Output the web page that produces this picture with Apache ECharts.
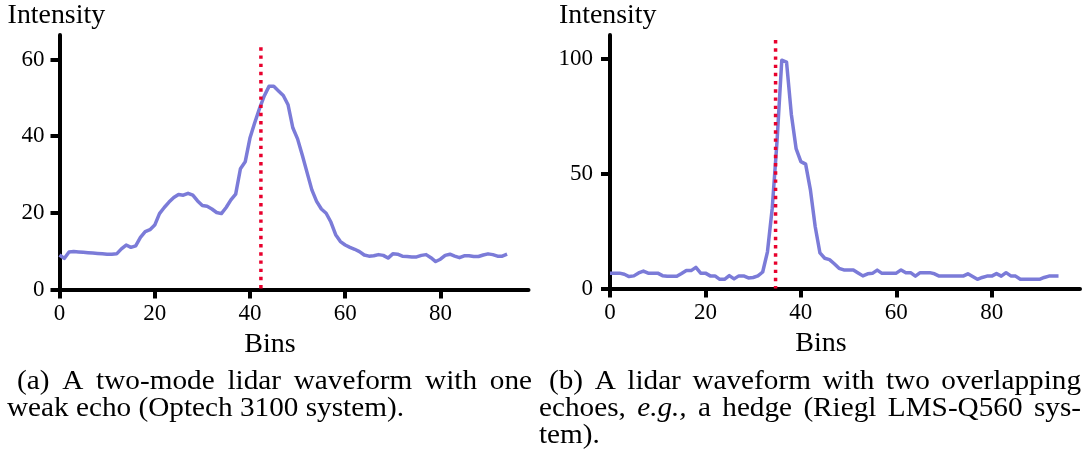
<!DOCTYPE html>
<html><head><meta charset="utf-8">
<script src="https://cdn.jsdelivr.net/npm/echarts@6/dist/echarts.min.js"></script>
<style>html,body{margin:0;padding:0;background:#fff;}#c{width:1083px;height:460px;}</style>
</head><body><div id="c"></div>
<script>
// ---- data ----
const waveformA = [9.0,8.1,9.8,9.9,9.8,9.7,9.6,9.5,9.4,9.3,9.2,9.2,9.3,10.6,11.6,11.0,11.4,13.6,15.1,15.6,
  16.8,19.8,21.4,22.8,24.0,24.8,24.6,25.1,24.6,23.1,21.9,21.7,21.0,20.1,19.8,21.4,23.4,24.9,31.5,33.3,
  39.5,43.5,47.2,50.5,53.0,53.0,51.8,50.6,48.2,42.2,39.3,35.0,30.5,26.0,23.0,21.0,19.9,17.6,14.3,12.5,
  11.6,11.0,10.5,9.9,9.0,8.7,8.8,9.1,8.9,8.2,9.3,9.2,8.7,8.6,8.5,8.5,8.9,9.1,8.3,7.3,
  7.9,8.9,9.2,8.7,8.3,8.8,8.8,8.6,8.6,9.0,9.3,9.1,8.7,8.7,9.2];
const waveformB = [6.7,6.7,6.7,6.2,5.2,5.5,6.8,7.6,6.7,6.7,6.7,5.6,5.3,5.3,5.3,6.5,7.8,7.8,9.2,6.7,
  6.7,5.5,5.5,4.0,4.0,5.6,4.2,5.5,5.5,4.6,4.8,5.5,7.2,16.0,35.0,64.0,99.5,98.7,76.0,61.0,
  55.3,54.2,43.0,27.0,15.5,13.2,12.6,10.8,8.8,8.1,8.1,8.1,6.8,5.5,6.4,6.6,8.0,6.6,6.6,6.6,
  6.7,8.1,6.9,6.9,5.4,6.9,6.9,6.9,6.4,5.4,5.4,5.4,5.4,5.4,5.4,6.4,5.2,4.0,4.8,5.4,
  5.4,6.5,5.4,6.9,5.5,5.4,4.0,4.0,4.0,4.0,4.0,4.8,5.4,5.4,5.4];
// dotted marker: [bin, top intensity, bottom intensity]
const markerA = [42.3, 63.2, 0];
const markerB = [34.7, 108.3, 0];
const xTicks = [0, 20, 40, 60, 80];
const yTicksA = [0, 20, 40, 60];
const yTicksB = [0, 50, 100];
const xTitle = 'Bins';
const yTitle = 'Intensity';
const captionA = [
  ['(a)', 'A', 'two-mode', 'lidar', 'waveform', 'with', 'one'],
  ['weak', 'echo', '(Optech', '3100', 'system).']
];
const captionB = [
  ['(b)', 'A', 'lidar', 'waveform', 'with', 'two', 'overlapping'],
  ['echoes,', 'e.g.,', 'a', 'hedge', '(Riegl', 'LMS-Q560', 'sys-'],
  ['tem).']
];
const italicWords = ['e.g.,'];

// ---- chart ----
const FONT = 'Liberation Serif';
const BLUE = '#7b7bd8';
const RED = '#e8012d';
const chart = echarts.init(document.getElementById('c'), null, {renderer: 'canvas'});

function xAxisCfg(gi, max) {
  return {
    type: 'value', gridIndex: gi, min: 0, max: max,
    axisLine: {show: true, onZero: false, lineStyle: {color: '#000', width: 4}},
    axisTick: {show: true, length: 9, lineStyle: {color: '#000', width: 4}, customValues: xTicks},
    axisLabel: {customValues: xTicks, fontFamily: FONT, fontSize: 23, color: '#000', margin: 13},
    splitLine: {show: false},
    name: xTitle, nameLocation: 'middle', nameGap: 40,
    nameTextStyle: {fontFamily: FONT, fontSize: 28, color: '#000', padding: [0, 48, 0, 0]}
  };
}
function yAxisCfg(gi, max, ticks, margin) {
  return {
    type: 'value', gridIndex: gi, min: 0, max: max,
    axisLine: {show: true, onZero: false, lineStyle: {color: '#000', width: 4}},
    axisTick: {show: true, length: 9, lineStyle: {color: '#000', width: 4}, customValues: ticks},
    axisLabel: {customValues: ticks, fontFamily: FONT, fontSize: 23, color: '#000', margin: margin},
    splitLine: {show: false}
  };
}
function waveSeries(i, values) {
  return {
    type: 'line', xAxisIndex: i, yAxisIndex: i, z: 2,
    data: values.map((v, k) => [k, v]),
    symbol: 'none', showSymbol: false, smooth: false,
    lineStyle: {color: BLUE, width: 3.5, join: 'round'}, silent: true
  };
}
function markerSeries(i, m) {
  return {
    type: 'line', xAxisIndex: i, yAxisIndex: i, z: 3,
    data: [[m[0], m[1]], [m[0], m[2]]],
    symbol: 'none', showSymbol: false,
    lineStyle: {color: RED, width: 3.5, type: [3.4, 4.8], cap: 'butt'}, silent: true
  };
}

// text measuring for captions
const ctx = document.createElement('canvas').getContext('2d');
function measure(t, size, italic) {
  ctx.font = (italic ? 'italic ' : '') + size + 'px "' + FONT + '"';
  return ctx.measureText(t).width;
}
const CAP_SIZE = 27;
const capScale = 397 / measure(captionA[1].join(' '), CAP_SIZE, false);
const graphics = [];
function addLine(words, x0, x1, y) {
  const widths = words.map(w => measure(w, CAP_SIZE, italicWords.includes(w)) * capScale);
  const total = widths.reduce((a, b) => a + b, 0);
  const gap = (x1 != null && words.length > 1) ? (x1 - x0 - total) / (words.length - 1)
                                               : measure(' ', CAP_SIZE, false) * capScale;
  let x = x0;
  words.forEach((w, k) => {
    graphics.push({
      type: 'text', x: x, y: y, scaleX: capScale, silent: true,
      style: {text: w, fill: '#000', fontFamily: FONT, fontSize: CAP_SIZE,
              fontStyle: italicWords.includes(w) ? 'italic' : 'normal',
              align: 'left', verticalAlign: 'middle', textAlign: 'left', textVerticalAlign: 'middle'}
    });
    x += widths[k] + gap;
  });
}
const lineY = [382, 409, 436];
addLine(captionA[0], 17, 532, lineY[0]);
addLine(captionA[1], 7, null, lineY[1]);
addLine(captionB[0], 549, 1081, lineY[0]);
addLine(captionB[1], 539, 1081, lineY[1]);
addLine(captionB[2], 539, null, lineY[2]);

const TITLE_SIZE = 27;
const titleScale = 97.5 / measure(yTitle, TITLE_SIZE, false);
[7.6, 559].forEach(x => graphics.push({
  type: 'text', x: x, y: 16, scaleX: titleScale, silent: true,
  style: {text: yTitle, fill: '#000', fontFamily: FONT, fontSize: TITLE_SIZE,
          align: 'left', verticalAlign: 'middle', textAlign: 'left', textVerticalAlign: 'middle'}
}));

chart.setOption({
  animation: false,
  backgroundColor: '#fff',
  grid: [
    {left: 59.5, top: 35, width: 469, height: 254.5, containLabel: false},
    {left: 610, top: 35, width: 470, height: 253.5, containLabel: false}
  ],
  xAxis: [xAxisCfg(0, 98.5), xAxisCfg(1, 98.5)],
  yAxis: [yAxisCfg(0, 66.4, yTicksA, 15), yAxisCfg(1, 110.5, yTicksB, 17)],
  series: [waveSeries(0, waveformA), markerSeries(0, markerA), waveSeries(1, waveformB), markerSeries(1, markerB)],
  graphic: graphics
});
</script></body></html>
